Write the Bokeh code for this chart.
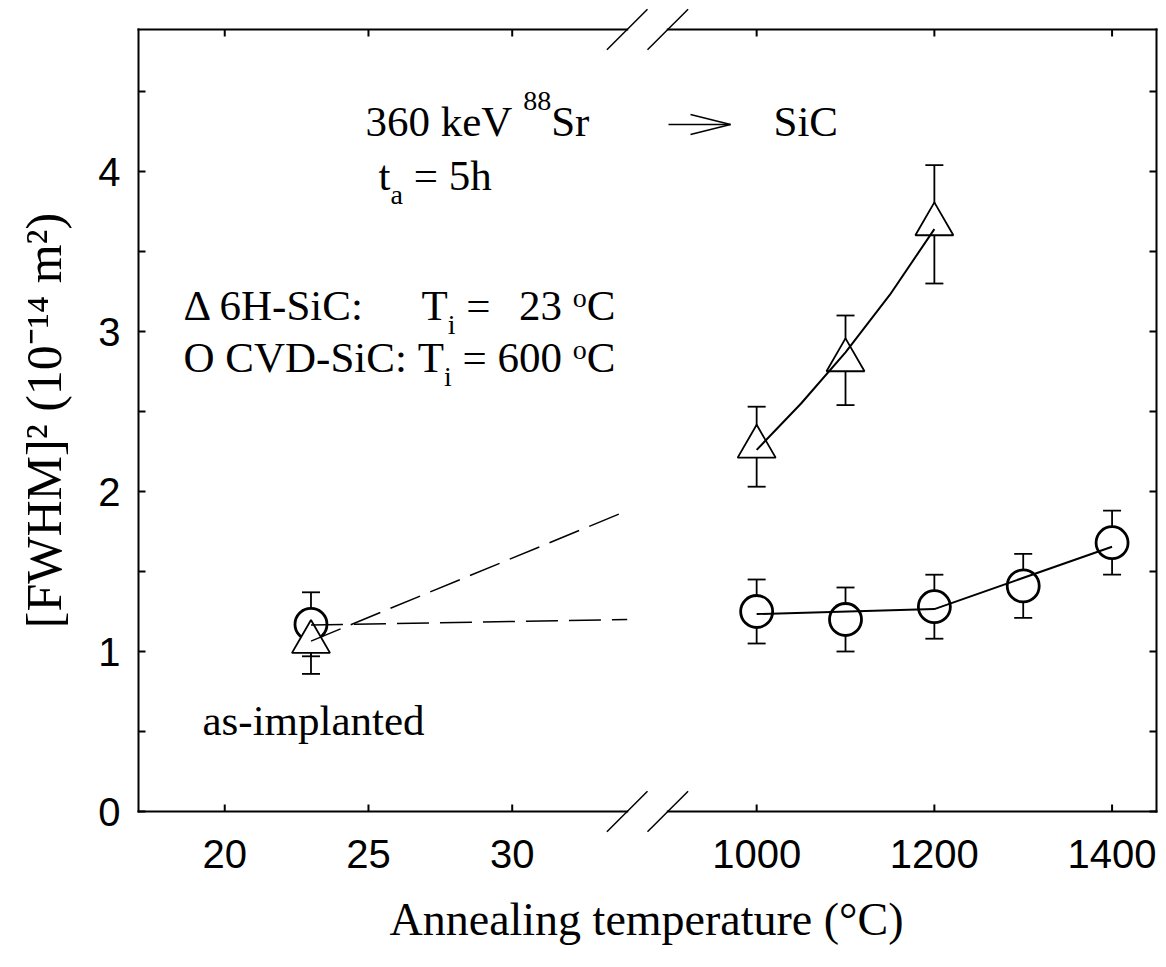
from bokeh.plotting import figure
from bokeh.models import (Range1d, LinearAxis, FixedTicker, Label,
                          Whisker, ColumnDataSource, TeeHead)
from bokeh.embed import file_html
from bokeh.resources import INLINE

# ---------------- data ----------------
asimpl_T = [23]
asimpl_circle = [1.17]
asimpl_circle_err = [0.20]
asimpl_tri = [1.06]
asimpl_tri_err = [0.20]

circle_T = [1000, 1100, 1200, 1300, 1400]
circle_vals = [1.25, 1.20, 1.28, 1.41, 1.68]
circle_err = [0.20, 0.20, 0.20, 0.20, 0.20]

tri_T = [1000, 1100, 1200]
tri_vals = [2.28, 2.82, 3.67]
tri_err = [0.25, 0.28, 0.37]

fit_circle_T = [1000, 1200, 1400]
fit_circle_v = [1.234, 1.265, 1.655]
fit_tri_T = [1000, 1050, 1100, 1150, 1200]
fit_tri_v = [2.26, 2.55, 2.87, 3.23, 3.64]

guide_T = [23, 34]
guide_tri_v = [1.065, 1.88]
guide_circ_v = [1.165, 1.20]

y_ticks = [0, 1, 2, 3, 4]
y_minor = [0.5, 1.5, 2.5, 3.5, 4.5]
x_ticks_low = [20, 25, 30]
x_ticks_high = [1000, 1200, 1400]

# ---------------- broken x-axis geometry ----------------
VL, VR, VT, VB = 138.0, 1156.0, 29.0, 811.0
FL, FR, FT, FB = 134, 1158, 6, 834
FRAME_W, FRAME_H = FR - FL, FB - FT
LOW = (17.0, 34.0)
HIGH = (900.0, 1450.0)
GAP_PX = 40.6
seg_px = (VR - VL - GAP_PX) / 2
low_scale = seg_px / (LOW[1] - LOW[0])
high_scale = seg_px / (HIGH[1] - HIGH[0])
PX_PER_Y = 160.0
YT = (VB - VT) / PX_PER_Y

x_low = Range1d(LOW[0] - (VL - FL) / low_scale, LOW[0] + (FR - VL) / low_scale)
x_high = Range1d(HIGH[1] - (VR - FL) / high_scale, HIGH[1] + (FR - VR) / high_scale)
y_rng = Range1d(-(FB - VB) / PX_PER_Y, (VB - FT) / PX_PER_Y)


def to_low(T):
    return round(x_low.start + (T - x_high.start) * high_scale / low_scale, 6)


def xd(px):
    return x_low.start + (px - FL) / low_scale


def yd(py):
    return (VB - py) / PX_PER_Y


XR = xd(VR)

p = figure(frame_width=FRAME_W, frame_height=FRAME_H,
           x_range=x_low, y_range=y_rng,
           output_backend="svg", toolbar_location=None,
           x_axis_location=None, y_axis_location=None,
           min_border_left=FL, min_border_right=8,
           min_border_top=FT, min_border_bottom=126)
p.extra_x_ranges = {"high": x_high}
p.outline_line_color = None
p.xgrid.visible = False
p.ygrid.visible = False
p.background_fill_color = "white"
p.border_fill_color = "white"

SANS = "Liberation Sans"
SERIF = "Liberation Serif"

xticks = x_ticks_low + [to_low(t) for t in x_ticks_high]
xover = {}
for t in x_ticks_low:
    xover[t] = str(t)
for t in x_ticks_high:
    xover[to_low(t)] = str(t)

bottom = LinearAxis(ticker=FixedTicker(ticks=xticks, minor_ticks=[]),
                    major_label_overrides=xover)
bottom.axis_line_color = None
bottom.major_tick_line_color = None
bottom.minor_tick_line_color = None
bottom.major_tick_in = 0
bottom.major_tick_out = 0
bottom.major_label_text_font = SANS
bottom.major_label_text_font_size = "40px"
bottom.major_label_text_color = "black"
bottom.major_label_standoff = 5
bottom.axis_label = "Annealing temperature (°C)"
bottom.axis_label_text_font = SERIF
bottom.axis_label_text_font_size = "46px"
bottom.axis_label_text_font_style = "normal"
bottom.axis_label_text_color = "black"
bottom.axis_label_standoff = 23
p.add_layout(bottom, "below")

left = LinearAxis(ticker=FixedTicker(ticks=y_ticks, minor_ticks=[]))
left.axis_line_color = None
left.major_tick_line_color = None
left.minor_tick_line_color = None
left.major_tick_in = 0
left.major_tick_out = 0
left.major_label_text_font = SANS
left.major_label_text_font_size = "40px"
left.major_label_text_color = "black"
left.major_label_standoff = 14
left.axis_label = "[FWHM]² (10⁻¹⁴ m²)"
left.axis_label_text_font = SERIF
left.axis_label_text_font_size = "50px"
left.axis_label_text_font_style = "normal"
left.axis_label_text_color = "black"
left.axis_label_standoff = 23
p.add_layout(left, "left")

# ---------------- box with break marks, and inward ticks ----------------
brk_lo = LOW[1]
brk_hi = to_low(HIGH[0])
fx0, fy0, fx1, fy1 = [], [], [], []
fx0 += [LOW[0], XR]; fy0 += [0, 0]; fx1 += [LOW[0], XR]; fy1 += [YT, YT]
for yy in (0, YT):
    fx0 += [LOW[0], brk_hi]; fy0 += [yy, yy]; fx1 += [brk_lo, XR]; fy1 += [yy, yy]
p.segment(fx0, fy0, fx1, fy1, line_width=2, line_color="black", line_cap="square")

sx0, sy0, sx1, sy1 = [], [], [], []
dxs = 20.3 / low_scale
dys = 20.2 / PX_PER_Y
for yy in (0, YT):
    for xc in (brk_lo, brk_hi):
        sx0.append(xc - dxs); sy0.append(yy - dys); sx1.append(xc + dxs); sy1.append(yy + dys)
p.segment(sx0, sy0, sx1, sy1, line_width=1.5, line_color="black")

tick_px = 7
tx0, ty0, tx1, ty1 = [], [], [], []
for t in xticks:
    tx0 += [t, t]; tx1 += [t, t]
    ty0 += [0, YT]; ty1 += [tick_px / PX_PER_Y, YT - tick_px / PX_PER_Y]
for yv in y_ticks + y_minor:
    ty0 += [yv, yv]; ty1 += [yv, yv]
    tx0 += [LOW[0], XR]; tx1 += [LOW[0] + tick_px / low_scale, XR - tick_px / low_scale]
p.segment(tx0, ty0, tx1, ty1, line_width=2, line_color="black")

# ---------------- error bars ----------------
def whisk(xs, vs, es, rng):
    src = ColumnDataSource(dict(x=xs, lo=[v - e for v, e in zip(vs, es)],
                                up=[v + e for v, e in zip(vs, es)]))
    w = Whisker(source=src, base="x", lower="lo", upper="up", dimension="height",
                line_width=1.8, line_color="black", level="underlay",
                upper_head=TeeHead(size=18, line_width=1.8, line_color="black"),
                lower_head=TeeHead(size=18, line_width=1.8, line_color="black"))
    if rng is not None:
        w.x_range_name = rng
    p.add_layout(w)


whisk(asimpl_T, asimpl_circle, asimpl_circle_err, None)
whisk(asimpl_T, asimpl_tri, asimpl_tri_err, None)
whisk(circle_T, circle_vals, circle_err, "high")
whisk(tri_T, tri_vals, tri_err, "high")

# ---------------- markers ----------------
p.scatter(asimpl_T, asimpl_circle, marker="circle", size=32, fill_color="white",
          line_color="black", line_width=2.8)
p.scatter(asimpl_T, asimpl_tri, marker="triangle", size=38, fill_color="white",
          line_color="black", line_width=1.8)
p.scatter(circle_T, circle_vals, marker="circle", size=32, fill_color="white",
          line_color="black", line_width=2.8, x_range_name="high")
p.scatter(tri_T, tri_vals, marker="triangle", size=38, fill_color="white",
          line_color="black", line_width=1.8, x_range_name="high")

# ---------------- lines ----------------
p.line(fit_circle_T, fit_circle_v, line_width=2, line_color="black", x_range_name="high")
p.line(fit_tri_T, fit_tri_v, line_width=2, line_color="black", x_range_name="high")
p.line(guide_T, guide_tri_v, line_width=1.5, line_color="black", line_dash="32 11")
p.line(guide_T, guide_circ_v, line_width=1.5, line_color="black", line_dash="32 11")

# ---------------- texts (Times metrics for run-on layout) ----------------
MAIN = 43
SMALL = 28
W = {' ': 250, ':': 278, '=': 564, '-': 333, 'Δ': 612, 'A': 722, 'C': 667, 'D': 722,
     'H': 722, 'O': 722, 'S': 556, 'T': 611, 'V': 722, 'a': 444, 'e': 444, 'h': 500,
     'i': 278, 'k': 500, 'r': 333, 't': 278, 'o': 500}


def tw(s, size):
    return sum(W.get(c, 500) for c in s) * size / 1000.0


def lab(text, px, py, size=MAIN, align="left"):
    # rendered baseline sits ~0.3 em lower than requested: compensate
    p.add_layout(Label(x=xd(px), y=yd(py - 0.3 * size), text=text, text_font=SERIF,
                       text_font_size=f"{size}px", text_color="black",
                       text_align=align, text_baseline="alphabetic"))


SP = tw(" ", MAIN)


def run(pieces, x0, base):
    x = x0
    for text, kind in pieces:
        if kind == "gap":
            x += SP * text
        elif kind == "n":
            lab(text, x, base, MAIN)
            x += tw(text, MAIN)
        elif kind == "sub":
            lab(text, x, base + 14, SMALL)
            x += tw(text, SMALL)
        elif kind == "sup":
            lab(text, x, base - 25, SMALL)
            x += tw(text, SMALL)
        elif kind == "deg":
            lab(text, x, base - 13, SMALL)
            x += tw(text, SMALL)
    return x


run([("360 keV", "n"), (1, "gap"), ("88", "sup"), ("Sr", "n")], 365, 134)
lab("SiC", 773, 134)
run([("t", "n"), ("a", "sub"), (1, "gap"), ("=", "n"), (1, "gap"), ("5h", "n")], 378, 188)

end2 = run([("O CVD-SiC:", "n"), (1, "gap"), ("T", "n"), ("i", "sub"), (1, "gap"),
            ("=", "n"), (1, "gap"), ("600", "n"), (1, "gap"), ("o", "deg"), ("C", "n")],
           183, 370)
run([("Δ 6H-SiC:", "n")], 183, 318)
run([("T", "n"), ("i", "sub"), (1, "gap"), ("=", "n")], 421, 318)
tail = tw("23", MAIN) + SP + tw("o", SMALL) + tw("C", MAIN)
run([("23", "n"), (1, "gap"), ("o", "deg"), ("C", "n")], end2 - tail, 318)

lab("as-implanted", 202, 733)

# open arrow "->"
ay = yd(124)
ax0, ay0, ax1, ay1 = [xd(668)], [ay], [xd(730)], [ay]
for hy in (114, 134):
    ax0.append(xd(690)); ay0.append(yd(hy)); ax1.append(xd(730)); ay1.append(ay)
p.segment(ax0, ay0, ax1, ay1, line_width=1.5, line_color="black")

open("out.html", "w").write(file_html(p, INLINE))
